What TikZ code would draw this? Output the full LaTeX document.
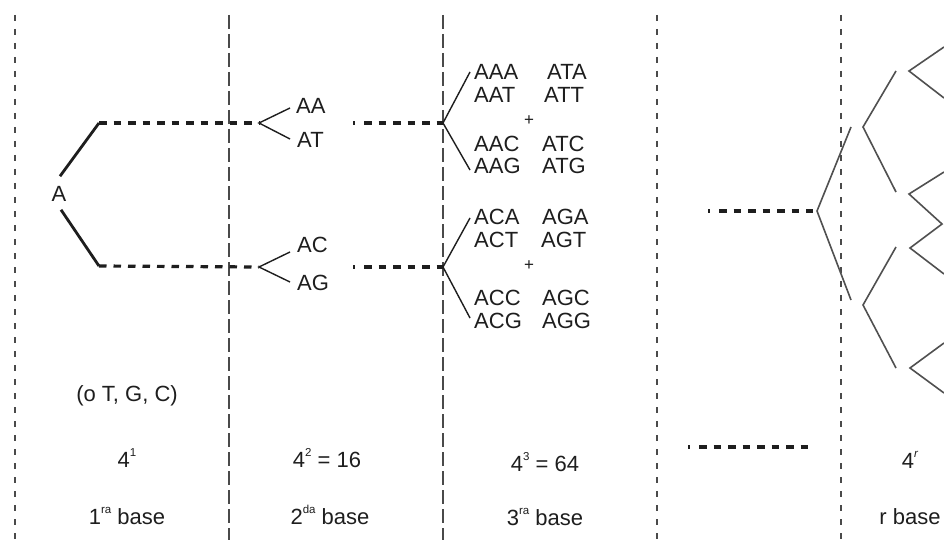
\documentclass[tikz,border=0pt]{standalone}
\usepackage{fontspec}
\setmainfont{Liberation Sans}
\definecolor{ink}{HTML}{1E1E1E}
\definecolor{rulec}{HTML}{4A4A4A}
\definecolor{twigc}{HTML}{505050}
% small raised index for powers and ordinals
\newcommand\upi[1]{\raisebox{0.5em}{\fontsize{11.5}{11.5}\selectfont #1}}
\begin{document}
\begin{tikzpicture}[x=1pt,y=-1pt,
  every node/.style={inner sep=0pt, text=ink, font=\fontsize{22}{25}\selectfont},
  divshort/.style={draw=rulec, line width=1.1pt, dash pattern=on 6pt off 8pt},
  divlong/.style={draw=rulec, line width=1.1pt, dash pattern=on 14pt off 5pt},
  stem/.style={draw=ink, line width=2.8pt},
  link/.style={draw=ink, line width=3.2pt, dash pattern=on 7.5pt off 7pt},
  lead/.style={draw=ink, line width=3.2pt,
    dash pattern=on 2pt off 9pt on 7.5pt off 7pt on 7.5pt off 7pt on 7.5pt off 7pt
      on 7.5pt off 7pt on 7.5pt off 7pt on 7.5pt off 7pt on 7.5pt off 7pt
      on 7.5pt off 7pt on 7.5pt off 7pt on 7.5pt off 60pt},
  fork/.style={draw=ink, line width=1.4pt},
  twig/.style={draw=twigc, line width=1.6pt},
  codon/.style={anchor=west},
  plus/.style={font=\fontsize{17}{19}\selectfont},
]
\useasboundingbox[fill=white] (0,0) rectangle (944,540);

% column dividers
\coordinate (d1t) at (15,15);   \coordinate (d1b) at (15,540);
\coordinate (d2t) at (229,15);  \coordinate (d2b) at (229,540);
\coordinate (d3t) at (443,15);  \coordinate (d3b) at (443,540);
\coordinate (d4t) at (657,15);  \coordinate (d4b) at (657,540);
\coordinate (d5t) at (841,15);  \coordinate (d5b) at (841,540);
\draw[divshort] (d1t) -- (d1b);
\draw[divlong]  (d2t) -- (d2b);
\draw[divlong]  (d3t) -- (d3b);
\draw[divshort] (d4t) -- (d4b);
\draw[divshort] (d5t) -- (d5b);

% first base
\node (A) at (59,194) {A};
\coordinate (k1u) at (99,123);
\coordinate (k1d) at (99,266);
\draw[stem] (A.north) ++(1,-10) -- (k1u);
\draw[stem] (A.south) ++(2,8) -- (k1d);

% second base
\coordinate (f2u) at (259,123);
\coordinate (f2d) at (259,267);
\draw[link] (k1u) -- (f2u);
\draw[link] (k1d) -- (f2d);
\node[codon] (AA) at (296,106) {AA};
\node[codon] (AT) at (297,140) {AT};
\node[codon] (AC) at (297,245) {AC};
\node[codon] (AG) at (297,283) {AG};
\coordinate (a2a) at (290,108);
\coordinate (a2b) at (290,139);
\coordinate (a2c) at (290,252);
\coordinate (a2d) at (290,282);
\draw[fork] (a2a) -- (f2u) -- (a2b);
\draw[fork] (a2c) -- (f2d) -- (a2d);

% third base
\coordinate (m3u) at (353,123);
\coordinate (m3d) at (353,267);
\coordinate (f3u) at (443,123);
\coordinate (f3d) at (443,267);
\draw[lead] (m3u) -- (f3u);
\draw[lead] (m3d) -- (f3d);
\coordinate (a3a) at (470,72);
\coordinate (a3b) at (470,170);
\coordinate (a3c) at (470,218);
\coordinate (a3d) at (470,318);
\draw[fork] (a3a) -- (f3u) -- (a3b);
\draw[fork] (a3c) -- (f3d) -- (a3d);

\node[codon] (AAA) at (474,72)  {AAA};
\node[codon] (AAT) at (474,95)  {AAT};
\node[codon] (AAC) at (474,144) {AAC};
\node[codon] (AAG) at (474,166) {AAG};
\node[codon] (ATA) at (547,72)  {ATA};
\node[codon] (ATT) at (544,95)  {ATT};
\node[codon] (ATC) at (542,144) {ATC};
\node[codon] (ATG) at (542,166) {ATG};
\node[plus]  (pl1) at (529,121) {+};

\node[codon] (ACA) at (474,217) {ACA};
\node[codon] (ACT) at (474,240) {ACT};
\node[codon] (ACC) at (474,298) {ACC};
\node[codon] (ACG) at (474,321) {ACG};
\node[codon] (AGA) at (542,217) {AGA};
\node[codon] (AGT) at (541,240) {AGT};
\node[codon] (AGC) at (542,298) {AGC};
\node[codon] (AGG) at (542,321) {AGG};
\node[plus]  (pl2) at (529,266) {+};

% r-th base
\coordinate (m4) at (708,211);
\coordinate (e4) at (813,211);
\draw[lead] (m4) -- (e4);
\coordinate (r0) at (817,211);
\coordinate (r0a) at (851,127);
\coordinate (r0b) at (851,300);
\draw[twig] (r0a) -- (r0) -- (r0b);
\coordinate (r1) at (863,127);
\coordinate (r1a) at (896,71);
\coordinate (r1b) at (896,192);
\draw[twig] (r1a) -- (r1) -- (r1b);
\coordinate (r2) at (863,305);
\coordinate (r2a) at (896,247);
\coordinate (r2b) at (896,368);
\draw[twig] (r2a) -- (r2) -- (r2b);
\coordinate (s1) at (909,71);
\coordinate (s1a) at (944,47);
\coordinate (s1b) at (944,98);
\draw[twig] (s1a) -- (s1) -- (s1b);
\coordinate (s2) at (909,194);
\coordinate (s2a) at (944,172);
\coordinate (s23) at (942,224);
\coordinate (s3) at (910,248);
\coordinate (s3b) at (944,274);
\draw[twig] (s2a) -- (s2) -- (s23) -- (s3) -- (s3b);
\coordinate (s4) at (910,368);
\coordinate (s4a) at (944,343);
\coordinate (s4b) at (944,393);
\draw[twig] (s4a) -- (s4) -- (s4b);

% bottom labels
\node (n0) at (127,396) {(o T, G, C)};
\node (p1) at (127,458) {4\upi{1}};
\node (b1) at (127,516) {1\upi{ra} base};
\node (p2) at (327,458) {4\upi{2} = 16};
\node (b2) at (330,515) {2\upi{da} base};
\node (p3) at (545,462) {4\upi{3} = 64};
\node (b3) at (545,517) {3\upi{ra} base};
\coordinate (m5) at (688,447);
\coordinate (e5) at (813,447);
\draw[lead] (m5) -- (e5);
\node (pr) at (910,460) {4\upi{\itshape r}};
\node (br) at (910,517) {r base};
\end{tikzpicture}
\end{document}
